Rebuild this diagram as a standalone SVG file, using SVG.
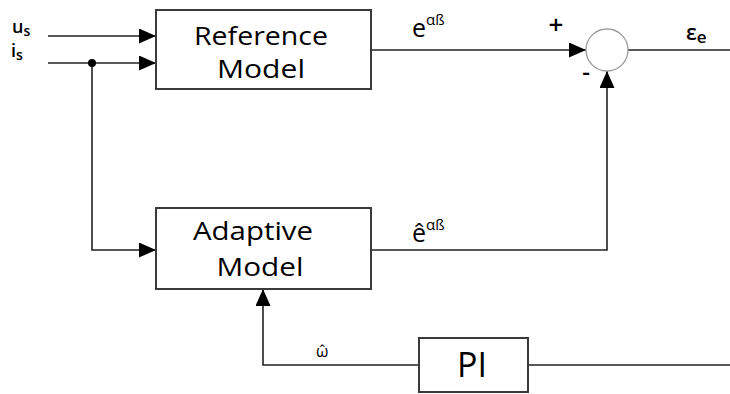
<svg xmlns="http://www.w3.org/2000/svg" width="730" height="394" viewBox="0 0 730 394">
<style>
.box{fill:#fff;stroke:#3a3a3a;stroke-width:2}
.ln{fill:none;stroke:#222;stroke-width:1.6}
.t{font-family:"Open Sans","Liberation Sans",sans-serif;fill:#000}
.big{font-size:26px}
.lb{font-weight:600}
</style>
<defs>
<marker id="ar" markerUnits="userSpaceOnUse" markerWidth="18" markerHeight="16" refX="17" refY="7.5" orient="auto" viewBox="0 0 18 16">
<path d="M0,0 L17,7.5 L0,15 z" fill="#000"/>
</marker>
</defs>
<rect width="730" height="394" fill="#fff"/>
<g id="connectors">
<line class="ln" x1="48" y1="36" x2="156" y2="36" marker-end="url(#ar)"/>
<line class="ln" x1="48" y1="63" x2="156" y2="63" marker-end="url(#ar)"/>
<polyline class="ln" points="92,63 92,250 156,250" marker-end="url(#ar)"/>
<circle cx="92" cy="63" r="4" fill="#000"/>
<line class="ln" x1="371" y1="50" x2="586" y2="50" marker-end="url(#ar)"/>
<line class="ln" x1="628" y1="50" x2="730" y2="50"/>
<polyline class="ln" points="371,250 607,250 607,71" marker-end="url(#ar)"/>
<line class="ln" x1="730" y1="365" x2="528" y2="365"/>
<polyline class="ln" points="419,365 263,365 263,289" marker-end="url(#ar)"/>
</g>
<g id="inputs">
<text class="t lb" x="12" y="33" font-size="18">u<tspan font-size="14" dy="3">s</tspan></text>
<text class="t lb" x="11" y="57" font-size="18">i<tspan font-size="14" dy="3">s</tspan></text>
</g>
<g id="reference-model">
<rect class="box" x="156" y="10" width="215" height="79"/>
<text class="t big" x="261" y="45" text-anchor="middle" textLength="134" lengthAdjust="spacingAndGlyphs">Reference</text>
<text class="t big" x="261" y="78" text-anchor="middle" textLength="88" lengthAdjust="spacingAndGlyphs">Model</text>
</g>
<g id="adaptive-model">
<rect class="box" x="156" y="208" width="215" height="81"/>
<text class="t big" x="253" y="240" text-anchor="middle" textLength="120" lengthAdjust="spacingAndGlyphs">Adaptive</text>
<text class="t big" x="260" y="276" text-anchor="middle" textLength="87" lengthAdjust="spacingAndGlyphs">Model</text>
</g>
<g id="sum">
<circle cx="607" cy="50" r="21" fill="#fff" stroke="#999" stroke-width="1.3"/>
<text class="t lb" x="556" y="34" font-size="26" text-anchor="middle">+</text>
<text class="t lb" x="586" y="80" font-size="24" text-anchor="middle">-</text>
</g>
<g id="pi">
<rect class="box" x="419" y="338" width="109" height="54"/>
<text class="t" x="472" y="377" font-size="34" text-anchor="middle">PI</text>
</g>
<g id="labels">
<text class="t" x="412" y="37" font-size="25">e<tspan font-size="15" dy="-12">αß</tspan></text>
<text class="t" x="412" y="242" font-size="25">ê<tspan font-size="15" dy="-12">αß</tspan></text>
<text class="t lb" x="686" y="40" font-size="21">ε<tspan font-size="17" dy="3">e</tspan></text>
<text class="t" x="316" y="357" font-size="16">ω̂</text>
</g>
</svg>
